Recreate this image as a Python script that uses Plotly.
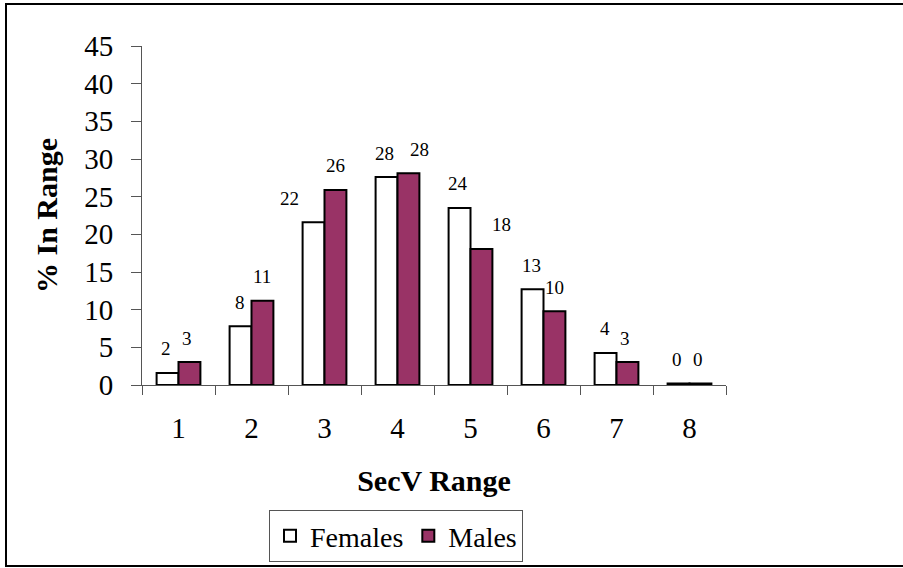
import plotly.graph_objects as go

categories = ["1", "2", "3", "4", "5", "6", "7", "8"]
females = [1.6, 7.8, 21.6, 27.6, 23.5, 12.7, 4.25, 0.2]
males = [3.05, 11.2, 25.9, 28.1, 18.06, 9.8, 3.05, 0.2]

# pixel nudges of the value labels (relative to bar centres)
fem_nudge = [-2, -1, -24, -2, -2, -1, -1, -2]
mal_nudge = [-2, 0, 0, 11, 20, 0, -2, -2]

W, H = 903, 568
L, R, T, B = 142, 177, 46, 183
pw, ph = W - L - R, H - T - B

FONT = "Liberation Serif, Times New Roman, serif"

fig = go.Figure()
fig.add_trace(go.Bar(name="Females", x=categories, y=females,
                     marker=dict(color="white", line=dict(color="black", width=2))))
fig.add_trace(go.Bar(name="Males", x=categories, y=males,
                     marker=dict(color="#993366", line=dict(color="black", width=2))))

bar_px = pw / len(categories) * (1 - 0.4) / 2
anns = []
for series, nudge, sign in ((females, fem_nudge, -1), (males, mal_nudge, 1)):
    for i, (v, n) in enumerate(zip(series, nudge)):
        anns.append(dict(x=i, y=v, xref="x", yref="y", text=f"{round(v):d}",
                         showarrow=False, xshift=sign * bar_px / 2 + n, yshift=24,
                         font=dict(family=FONT, size=19, color="black")))

fig.update_layout(
    width=W, height=H,
    margin=dict(l=L, r=R, t=T, b=B, autoexpand=False),
    paper_bgcolor="white", plot_bgcolor="white",
    barmode="group", bargap=0.4, bargroupgap=0,
    font=dict(family=FONT, size=29, color="black"),
    showlegend=True,
    legend=dict(orientation="h", x=(396 - L) / pw, xanchor="center",
                y=(H - B - 536) / ph, yanchor="middle",
                bordercolor="#555", borderwidth=1, bgcolor="white",
                font=dict(family=FONT, size=28, color="black"),
                itemsizing="constant"),
    annotations=anns,
    shapes=[dict(type="rect", xref="paper", yref="paper",
                 x0=(6 - L) / pw, x1=(W + 10 - L) / pw,
                 y0=(H - B - 566) / ph, y1=(H - B - 4) / ph,
                 line=dict(color="black", width=2), layer="below")],
)
fig.update_xaxes(type="category", range=[-0.5, 7.5], automargin=False,
                 showline=True, linecolor="#555", linewidth=1,
                 ticks="outside", ticklen=9, tickcolor="#555", tickson="boundaries",
                 showgrid=False, ticklabelstandoff=17,
                 title=dict(text="<b>SecV Range</b>", font=dict(size=30), standoff=27))
fig.update_yaxes(range=[0, 45], dtick=5, automargin=False,
                 showline=True, linecolor="#555", linewidth=1,
                 ticks="outside", ticklen=10, tickcolor="#555", showgrid=False,
                 zeroline=False, ticklabelstandoff=12,
                 title=dict(text="<b>% In Range</b>", font=dict(size=30), standoff=17))

fig.write_html("out.html", config={"displayModeBar": False},
               post_script="document.body.style.margin='0';document.body.style.overflow='hidden';")
